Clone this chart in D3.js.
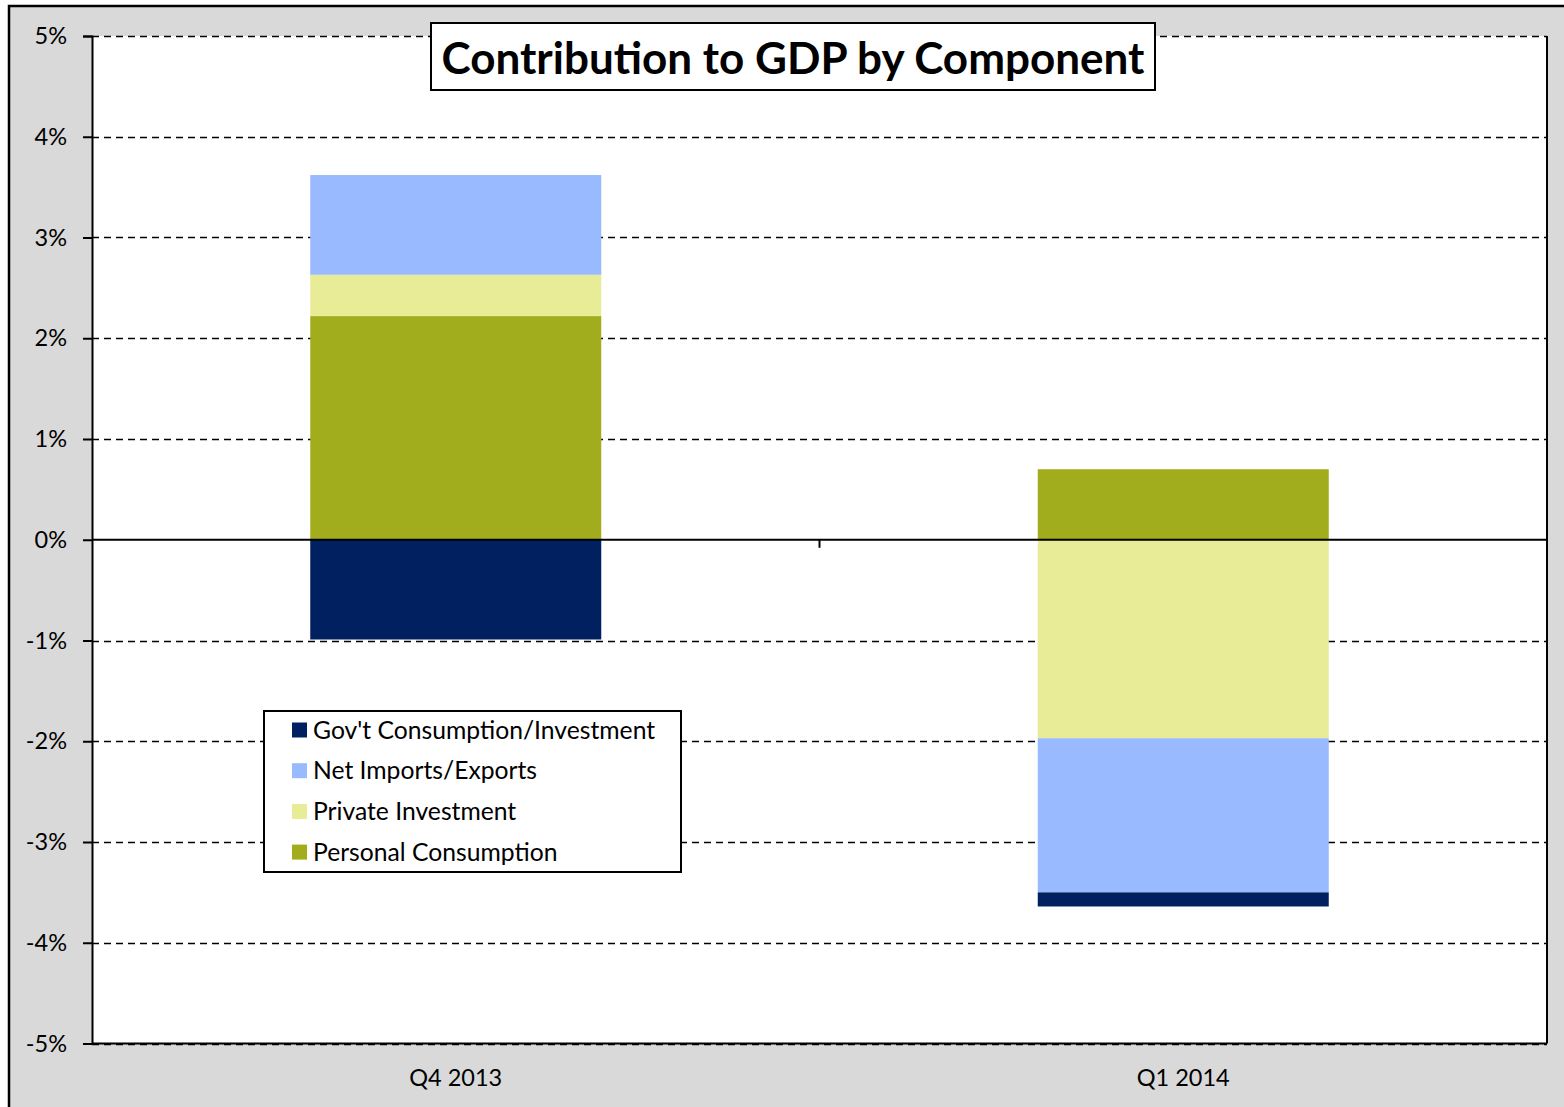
<!DOCTYPE html>
<html>
<head>
<meta charset="utf-8">
<script src="https://cdn.jsdelivr.net/npm/d3@7"></script>
<style>
  html, body { margin: 0; padding: 0; background: #ffffff; }
  svg { display: block; }
  text { font-family: Lato, "Open Sans", sans-serif; fill: #000; }
</style>
</head>
<body>
<svg id="chart" width="1564" height="1107"></svg>
<script>
// Quarters shown on the category axis
const quarters = ["Q4 2013", "Q1 2014"];

// Contribution to real GDP growth, percentage points, per component
const personalConsumption = [2.22, 0.70];
const privateInvestment   = [0.41, -1.97];
const netExports          = [0.99, -1.53];
const govConsumption      = [-0.99, -0.14];

// Stacking order (first key sits next to the zero line)
const seriesKeys  = ["Personal Consumption", "Private Investment", "Net Imports/Exports", "Gov't Consumption/Investment"];
const seriesColors = ["#a2ad1d", "#e8ec96", "#99bafe", "#002060"];

// Legend lists the series top-down in reverse stacking order
const legendKeys = ["Gov't Consumption/Investment", "Net Imports/Exports", "Private Investment", "Personal Consumption"];

// Y axis tick values (percent)
const yTicks = [5, 4, 3, 2, 1, 0, -1, -2, -3, -4, -5];

const chartTitle = "Contribution to GDP by Component";

const rows = quarters.map((q, i) => ({
  quarter: q,
  "Personal Consumption": personalConsumption[i],
  "Private Investment": privateInvestment[i],
  "Net Imports/Exports": netExports[i],
  "Gov't Consumption/Investment": govConsumption[i]
}));

const svg = d3.select("#chart");
const plot = { left: 92, right: 1547, top: 36, bottom: 1043.5 };

const color = d3.scaleOrdinal().domain(seriesKeys).range(seriesColors);
const x = d3.scaleBand().domain(quarters).range([plot.left, plot.right]).padding(0);
const y = d3.scaleLinear().domain([-5, 5]).range([plot.bottom, plot.top]);

// Chart area background with its border
svg.append("rect")
  .attr("x", 9).attr("y", 6)
  .attr("width", 1600).attr("height", 1150)
  .attr("fill", "#d9d9d9")
  .attr("stroke", "#000").attr("stroke-width", 2.5);

// Plot area
svg.append("rect")
  .attr("x", plot.left).attr("y", plot.top)
  .attr("width", plot.right - plot.left).attr("height", plot.bottom - plot.top)
  .attr("fill", "#fff");

// Dashed horizontal gridlines
svg.append("g")
  .selectAll("line")
  .data(yTicks.filter(d => d !== 0))
  .join("line")
  .attr("x1", plot.left).attr("x2", plot.right)
  .attr("y1", d => Math.round(y(d)) + 0.5).attr("y2", d => Math.round(y(d)) + 0.5)
  .attr("stroke", "#000").attr("stroke-width", 1.6)
  .attr("stroke-dasharray", "7,5");

// Stacked bars (positive values stack upward, negative downward)
const stacked = d3.stack().keys(seriesKeys).offset(d3.stackOffsetDiverging)(rows);
const barWidth = x.bandwidth() * 0.4;

svg.append("g")
  .selectAll("g")
  .data(stacked)
  .join("g")
  .attr("fill", d => color(d.key))
  .selectAll("rect")
  .data(d => d)
  .join("rect")
  .attr("x", d => x(d.data.quarter) + (x.bandwidth() - barWidth) / 2)
  .attr("width", barWidth)
  .attr("y", d => y(Math.max(d[0], d[1])))
  .attr("height", d => Math.abs(y(d[0]) - y(d[1])));

// Plot border: right and bottom edges
svg.append("line")
  .attr("x1", plot.right).attr("x2", plot.right)
  .attr("y1", plot.top).attr("y2", plot.bottom)
  .attr("stroke", "#000").attr("stroke-width", 2);
svg.append("line")
  .attr("x1", plot.left).attr("x2", plot.right)
  .attr("y1", plot.bottom).attr("y2", plot.bottom)
  .attr("stroke", "#000").attr("stroke-width", 2);

// Zero line acting as the category axis, with a tick between quarters
svg.append("line")
  .attr("x1", plot.left).attr("x2", plot.right)
  .attr("y1", y(0)).attr("y2", y(0))
  .attr("stroke", "#000").attr("stroke-width", 2);
svg.append("line")
  .attr("x1", x(quarters[1])).attr("x2", x(quarters[1]))
  .attr("y1", y(0)).attr("y2", y(0) + 8)
  .attr("stroke", "#000").attr("stroke-width", 2);

// Y axis
const yAxis = d3.axisLeft(y)
  .tickValues(yTicks)
  .tickSize(9)
  .tickPadding(16)
  .tickFormat(d => d + "%");

const yAxisG = svg.append("g")
  .attr("transform", `translate(${plot.left},0)`)
  .call(yAxis);
yAxisG.select(".domain").attr("stroke", "#000").attr("stroke-width", 2);
yAxisG.selectAll(".tick line").attr("stroke", "#000").attr("stroke-width", 2);
yAxisG.selectAll(".tick text")
  .attr("font-family", "Lato, 'Open Sans', sans-serif")
  .attr("font-size", 23.5)
  .attr("fill", "#000");

// Category labels below the plot
svg.append("g")
  .selectAll("text")
  .data(quarters)
  .join("text")
  .attr("x", d => x(d) + x.bandwidth() / 2)
  .attr("y", 1086)
  .attr("text-anchor", "middle")
  .attr("font-size", 23.5)
  .text(d => d);

// Title in a boxed frame
const titleG = svg.append("g");
titleG.append("rect")
  .attr("x", 431).attr("y", 23)
  .attr("width", 724).attr("height", 67)
  .attr("fill", "#fff")
  .attr("stroke", "#000").attr("stroke-width", 2);
titleG.append("text")
  .attr("x", 793).attr("y", 74)
  .attr("text-anchor", "middle")
  .attr("font-size", 44)
  .attr("font-weight", 700)
  .text(chartTitle);

// Legend
const legendG = svg.append("g");
legendG.append("rect")
  .attr("x", 264).attr("y", 711)
  .attr("width", 417).attr("height", 161)
  .attr("fill", "#fff")
  .attr("stroke", "#000").attr("stroke-width", 2);

const legendItems = legendG.selectAll("g.item")
  .data(legendKeys)
  .join("g")
  .attr("class", "item")
  .attr("transform", (d, i) => `translate(292, ${730 + i * 40.7})`);

legendItems.append("rect")
  .attr("x", 0).attr("y", -7.5)
  .attr("width", 15).attr("height", 15)
  .attr("fill", d => color(d));

legendItems.append("text")
  .attr("x", 21).attr("y", 8.5)
  .attr("font-size", 24.7)
  .text(d => d);
</script>
</body>
</html>
